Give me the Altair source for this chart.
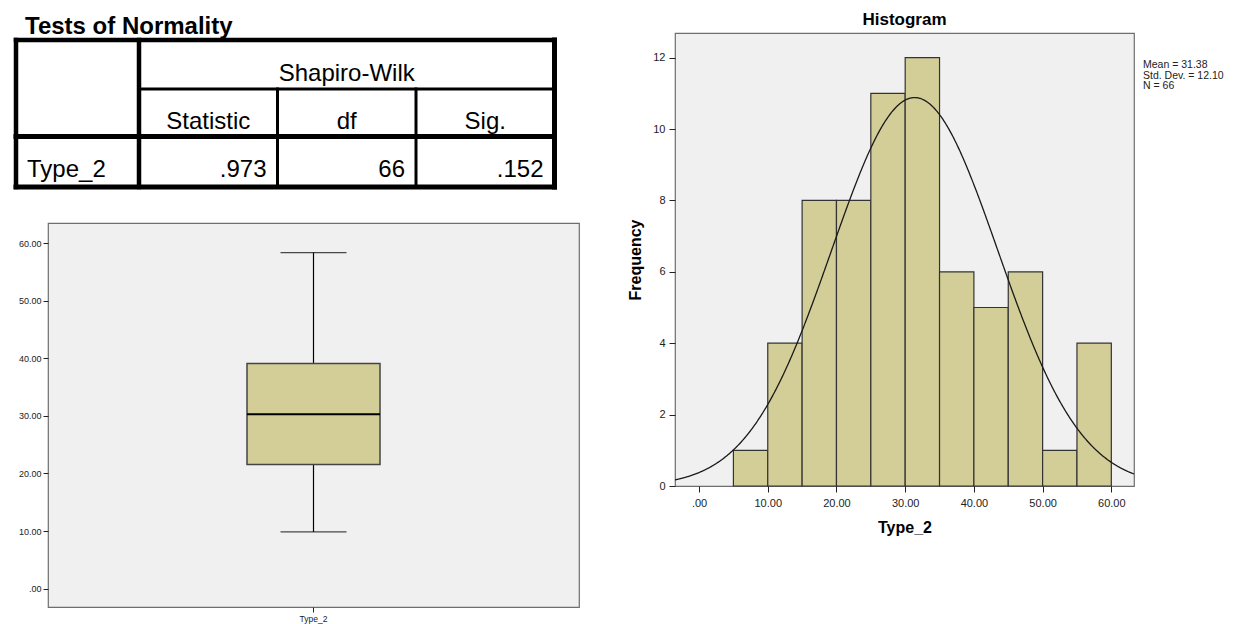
import altair as alt
import pandas as pd

# ---------------- data ----------------
TABLE_TITLE = "Tests of Normality"
TEST_NAME = "Shapiro-Wilk"
STAT_HEADERS = ["Statistic", "df", "Sig."]
ROW_LABEL = "Type_2"
STAT_VALUES = [".973", "66", ".152"]

BOX_VAR = ["Type_2"]
BOX_MIN = [9.84]
BOX_Q1 = [21.57]
BOX_MEDIAN = [30.26]
BOX_Q3 = [39.10]
BOX_MAX = [58.37]

BIN_START = [5, 10, 15, 20, 25, 30, 35, 40, 45, 50, 55]
BIN_END = [10, 15, 20, 25, 30, 35, 40, 45, 50, 55, 60]
COUNTS = [1, 4, 8, 8, 11, 12, 6, 5, 6, 1, 4]
MEAN = 31.38
STD = 12.10
N = 66

AXIS_VALUES = [0, 10, 20, 30, 40, 50, 60]
FREQ_TICKS = [0, 2, 4, 6, 8, 10, 12]

# ---------------- styling / layout constants ----------------
FONT = "Liberation Sans"
KHAKI = "#d3ce98"
PANEL = "#f0f0f0"
FRAME = "#6e6e6e"
SPSS_FMT = "datum.value == 0 ? '.00' : format(datum.value, '.2f')"

# table geometry in its own pixel frame (origin = outer border top-left)
COLS = [0, 123, 261.5, 400, 538.5]
ROWS = [0, 49, 96.5, 147]
# the table view shares its top-left corner with the histogram top / boxplot left
T_OFFX, T_OFFY = -32, 7
TW, TH = 506, 160

lines = pd.DataFrame([
    dict(x1=COLS[0], x2=COLS[4], y1=ROWS[0], y2=ROWS[0], w=4.5),
    dict(x1=COLS[0], x2=COLS[4], y1=ROWS[3], y2=ROWS[3], w=5),
    dict(x1=COLS[0], x2=COLS[0], y1=ROWS[0], y2=ROWS[3], w=4.5),
    dict(x1=COLS[4], x2=COLS[4], y1=ROWS[0], y2=ROWS[3], w=5),
    dict(x1=COLS[1], x2=COLS[1], y1=ROWS[0], y2=ROWS[3], w=4.5),
    dict(x1=COLS[1], x2=COLS[4], y1=ROWS[1], y2=ROWS[1], w=3),
    dict(x1=COLS[0], x2=COLS[4], y1=ROWS[2], y2=ROWS[2], w=5),
    dict(x1=COLS[2], x2=COLS[2], y1=ROWS[1], y2=ROWS[3], w=3),
    dict(x1=COLS[3], x2=COLS[3], y1=ROWS[1], y2=ROWS[3], w=3),
])

center_txt = pd.DataFrame(
    [dict(t=TEST_NAME, x=(COLS[1] + COLS[4]) / 2, y=ROWS[1] - 8)]
    + [dict(t=h, x=(COLS[i + 1] + COLS[i + 2]) / 2, y=ROWS[2] - 7.5) for i, h in enumerate(STAT_HEADERS)]
)
left_txt = pd.DataFrame([dict(t=ROW_LABEL, x=COLS[0] + 11, y=ROWS[3] - 10)])
right_txt = pd.DataFrame(
    [dict(t=v, x=COLS[i + 2] - 11, y=ROWS[3] - 10) for i, v in enumerate(STAT_VALUES)]
)
title_txt = pd.DataFrame([dict(t=TABLE_TITLE, x=9, y=-6)])

tx = alt.Scale(domain=[-T_OFFX, TW - T_OFFX], nice=False, zero=False)
ty = alt.Scale(domain=[-T_OFFY, TH - T_OFFY], nice=False, zero=False, reverse=True)

t_lines = alt.Chart(lines).mark_rule(color="black", strokeCap="square").encode(
    x=alt.X("x1:Q", scale=tx, axis=None), x2="x2:Q",
    y=alt.Y("y1:Q", scale=ty, axis=None), y2="y2:Q",
    strokeWidth=alt.StrokeWidth("w:Q", scale=None),
)

def ttext(df, align, size=24, weight="normal"):
    return alt.Chart(df).mark_text(
        align=align, baseline="alphabetic", fontSize=size, fontWeight=weight, font=FONT, color="black"
    ).encode(x=alt.X("x:Q", scale=tx, axis=None), y=alt.Y("y:Q", scale=ty, axis=None), text="t:N")

table = alt.layer(
    t_lines, ttext(center_txt, "center"), ttext(left_txt, "left"), ttext(right_txt, "right"),
    ttext(title_txt, "left", 24, "bold"),
).properties(
    width=TW, height=TH,
    view=alt.ViewBackground(strokeWidth=0),
)

# ---------------- box plot ----------------
box_df = pd.DataFrame(dict(var=BOX_VAR, lo=BOX_MIN, q1=BOX_Q1, med=BOX_MEDIAN, q3=BOX_Q3, hi=BOX_MAX))
bx = alt.X("var:N", scale=alt.Scale(paddingInner=0, paddingOuter=1),
           axis=alt.Axis(title=None, labelAngle=0, labelFontSize=8.5, labelPadding=2, tickSize=5,
                         domain=False, tickColor="#222", labelColor="#222"))
by_scale = alt.Scale(domain=[-3.2, 63.5], nice=False, zero=False)
by_axis = alt.Axis(title=None, values=AXIS_VALUES, labelExpr=SPSS_FMT, labelFontSize=9, labelPadding=2,
                   tickSize=5, grid=False, domain=False, minExtent=34, maxExtent=34,
                   tickColor="#222", labelColor="#222")

box_base = alt.Chart(box_df)
whisk_lo = box_base.mark_rule(color="black", strokeWidth=1.2).encode(
    x=bx, y=alt.Y("lo:Q", scale=by_scale, axis=by_axis), y2="q1:Q")
whisk_hi = box_base.mark_rule(color="black", strokeWidth=1.2).encode(x=bx, y="q3:Q", y2="hi:Q")
cap_lo = box_base.mark_tick(color="black", size=66, thickness=1.3).encode(x=bx, y="lo:Q")
cap_hi = box_base.mark_tick(color="black", size=66, thickness=1.3).encode(x=bx, y="hi:Q")
box = box_base.mark_bar(fill=KHAKI, stroke="#444444", strokeWidth=1.5, size=133).encode(
    x=bx, y="q1:Q", y2="q3:Q")
median = box_base.mark_bar(fillOpacity=0, stroke="black", strokeWidth=2, size=133).encode(
    x=bx, y="med:Q", y2="med:Q")

boxplot = alt.layer(whisk_lo, whisk_hi, cap_lo, cap_hi, box, median).properties(
    width=531, height=384,
    view=alt.ViewBackground(fill=PANEL, stroke=FRAME, strokeWidth=1.2),
)

# ---------------- histogram ----------------
hist_df = pd.DataFrame(dict(start=BIN_START, end=BIN_END, count=COUNTS))
BINW = BIN_END[0] - BIN_START[0]
hx_scale = alt.Scale(domain=[-3.5, 63.3], nice=False, zero=False)
hy_scale = alt.Scale(domain=[0, 12.69], nice=False, zero=False)
hx_axis = alt.Axis(title="Type_2", values=AXIS_VALUES, labelExpr=SPSS_FMT, labelFontSize=11, labelPadding=5,
                   tickSize=6, grid=False, domain=False, titleFontSize=16, titleFont=FONT,
                   titleFontWeight="bold", titlePadding=11, tickColor="#222", labelColor="#222",
                   titleColor="black")
hy_axis = alt.Axis(title="Frequency", values=FREQ_TICKS, format="d", labelFontSize=11, labelPadding=4,
                   tickSize=6, grid=False, domain=False, titleFontSize=16, titleFont=FONT,
                   titleFontWeight="bold", titlePadding=10, minExtent=22, maxExtent=22,
                   tickColor="#222", labelColor="#222", titleColor="black")

bars = alt.Chart(hist_df).mark_rect(fill=KHAKI, stroke="#333333", strokeWidth=1.2).encode(
    x=alt.X("start:Q", scale=hx_scale, axis=hx_axis), x2="end:Q",
    y=alt.Y("count:Q", scale=hy_scale, axis=hy_axis), y2=alt.datum(0),
)
curve = alt.Chart(alt.sequence(-3.5, 63.35, 0.1, as_="x")).transform_calculate(
    f=f"{N} * {BINW} * densityNormal(datum.x, {MEAN}, {STD})"
).mark_line(color="#1a1a1a", strokeWidth=1.3, clip=True).encode(
    x=alt.X("x:Q", scale=hx_scale), y=alt.Y("f:Q", scale=hy_scale)
)
stats_lines = [f"Mean = {MEAN:.2f}", f"Std. Dev. = {STD:.2f}", f"N = {N}"]
stats = alt.Chart(pd.DataFrame({"k": [0]})).mark_text(
    text=stats_lines, align="left", baseline="alphabetic", fontSize=10.5, lineHeight=10.5,
    font=FONT, color="#222"
).encode(x=alt.value(468), y=alt.value(35))

hist = alt.layer(bars, curve, stats).properties(
    width=459, height=453,
    title=alt.TitleParams("Histogram", fontSize=17, fontWeight="bold", font=FONT, anchor="middle",
                          offset=4, color="black"),
    view=alt.ViewBackground(fill=PANEL, stroke=FRAME, strokeWidth=1.2),
)

left = alt.concat(table, boxplot, columns=1, align="none", spacing=29)
chart = alt.concat(left, hist, columns=2, align="none", spacing=46).properties(
    padding={"left": 4, "top": 2, "right": 0, "bottom": 0}
).configure(font=FONT, background="white")

chart.save("out.html", embed_options={"renderer": "svg", "actions": False})
